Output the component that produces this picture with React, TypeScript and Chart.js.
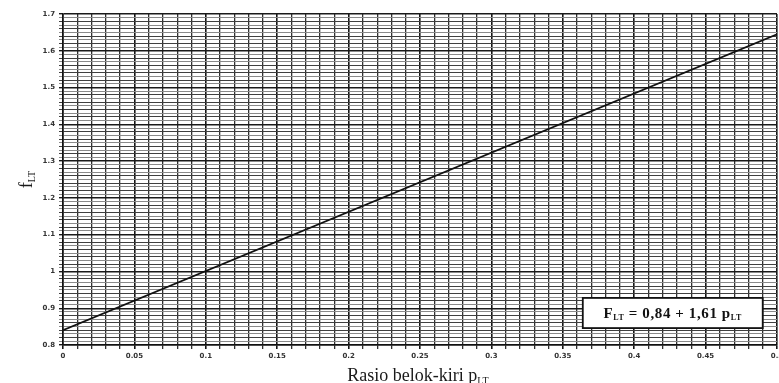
import React, { useEffect, useRef } from "react";
import { Chart, registerables } from "chart.js";

Chart.register(...registerables);

// Data
const rasioPLT = [0, 0.5];
const fLT = [0.84, 1.645];
const xTickLabels = ["0", "0.05", "0.1", "0.15", "0.2", "0.25", "0.3", "0.35", "0.4", "0.45", "0.5"];
const yTickLabels = ["0.8", "0.9", "1", "1.1", "1.2", "1.3", "1.4", "1.5", "1.6", "1.7"];
const xTitle = "Rasio belok-kiri p";
const xTitleSub = "LT";
const yTitle = "f";
const yTitleSub = "LT";
const eqParts = ["F", "LT", " = 0,84 + 1,61 p", "LT"];

const W = 779;
const H = 383;

function drawSubText(ctx: CanvasRenderingContext2D, parts: string[], x: number, y: number, font: string, subFont: string, subDy: number, align: "left" | "center") {
  let total = 0;
  parts.forEach((p, i) => {
    ctx.font = i % 2 === 0 ? font : subFont;
    total += ctx.measureText(p).width;
  });
  let cx = align === "center" ? x - total / 2 : x;
  parts.forEach((p, i) => {
    ctx.font = i % 2 === 0 ? font : subFont;
    ctx.fillText(p, cx, i % 2 === 0 ? y : y + subDy);
    cx += ctx.measureText(p).width;
  });
}

const annotPlugin = {
  id: "annot",
  afterDraw(chart: any) {
    const ctx: CanvasRenderingContext2D = chart.ctx;
    const xs = chart.scales.x;
    const ys = chart.scales.y;
    ctx.save();
    ctx.fillStyle = "#1a1a1a";
    ctx.textBaseline = "alphabetic";
    ctx.textAlign = "left";
    // x title
    drawSubText(ctx, [xTitle, xTitleSub], 418, 381, "18px 'Liberation Serif', serif", "10px 'Liberation Serif', serif", 3, "center");
    // y title rotated
    ctx.translate(32, (ys.top + ys.bottom) / 2);
    ctx.rotate(-Math.PI / 2);
    drawSubText(ctx, [yTitle, yTitleSub], 0, 0, "18px 'Liberation Serif', serif", "10px 'Liberation Serif', serif", 3, "center");
    ctx.restore();

    // equation box
    ctx.save();
    const x0 = xs.getPixelForValue(0.364);
    const x1 = xs.getPixelForValue(0.49);
    const y0 = ys.getPixelForValue(0.928);
    const y1 = ys.getPixelForValue(0.846);
    ctx.fillStyle = "#ffffff";
    ctx.fillRect(x0, y0, x1 - x0, y1 - y0);
    ctx.strokeStyle = "#111";
    ctx.lineWidth = 1.8;
    ctx.strokeRect(x0, y0, x1 - x0, y1 - y0);
    ctx.fillStyle = "#111";
    (ctx as any).letterSpacing = "0.6px";
    drawSubText(ctx, eqParts, (x0 + x1) / 2, (y0 + y1) / 2 + 5, "bold 15px 'Liberation Serif', serif", "bold 8px 'Liberation Serif', serif", 2, "center");
    ctx.restore();
  },
};

export default function App() {
  const ref = useRef<HTMLCanvasElement | null>(null);
  useEffect(() => {
    if (!ref.current) return;
    const chart = new Chart(ref.current, {
      type: "scatter",
      data: {
        datasets: [
          {
            data: rasioPLT.map((x, i) => ({ x, y: fLT[i] })),
            showLine: true,
            borderColor: "#111",
            borderWidth: 1.8,
            pointRadius: 0,
            fill: false,
          },
        ],
      },
      options: {
        responsive: false,
        animation: false,
        layout: { padding: { top: 14, right: 2, left: 0, bottom: 0 } },
        plugins: { legend: { display: false }, tooltip: { enabled: false } },
        scales: {
          x: {
            type: "linear",
            min: 0,
            max: 0.5,
            afterFit: (s: any) => {
              s.height = 38;
              s.paddingLeft = 0;
              s.paddingRight = 0;
            },
            ticks: {
              stepSize: 0.01,
              autoSkip: false,
              maxRotation: 0,
              padding: 3,
              color: "#333",
              font: { size: 7, weight: "bold", family: "'DejaVu Sans', sans-serif" },
              callback: (v: any) => {
                const i = Math.round(Number(v) * 100);
                return i % 5 === 0 ? xTickLabels[i / 5] : "";
              },
            },
            grid: {
              tickLength: 4,
              color: (c: any) => {
                const i = Math.round(c.tick.value * 100);
                return i % 5 === 0 ? "#151515" : "#303030";
              },
              lineWidth: (c: any) => {
                const i = Math.round(c.tick.value * 100);
                return i % 5 === 0 ? 1.6 : 1.3;
              },
            },
            border: { display: true, color: "#111", width: 1.5 },
          },
          y: {
            type: "linear",
            min: 0.8,
            max: 1.7,
            afterFit: (s: any) => {
              s.width = 63;
              s.paddingTop = 0;
              s.paddingBottom = 0;
            },
            ticks: {
              stepSize: 0.01,
              autoSkip: false,
              padding: 4,
              color: "#333",
              font: { size: 7, weight: "bold", family: "'DejaVu Sans', sans-serif" },
              callback: (v: any) => {
                const i = Math.round(Number(v) * 100);
                return i % 10 === 0 ? yTickLabels[(i - 80) / 10] : "";
              },
            },
            grid: {
              tickLength: 4,
              color: (c: any) => {
                const i = Math.round(c.tick.value * 100);
                if (i % 10 === 0) return "#1a1a1a";
                return i % 2 === 0 ? "#404040" : "#8a8a8a";
              },
              lineWidth: (c: any) => {
                const i = Math.round(c.tick.value * 100);
                return i % 10 === 0 ? 1.4 : 1;
              },
            },
            border: { display: true, color: "#111", width: 1.5 },
          },
        },
      },
      plugins: [annotPlugin],
    });
    return () => chart.destroy();
  }, []);
  return (
    <div style={{ position: "fixed", left: 0, top: 0, width: W, height: H, background: "#fff" }}>
      <canvas ref={ref} width={W} height={H} />
    </div>
  );
}
